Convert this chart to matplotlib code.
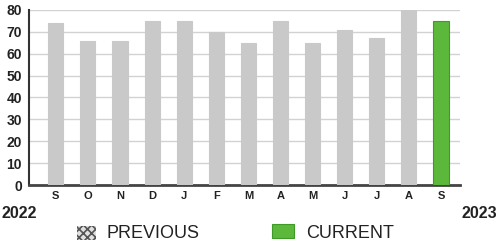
import matplotlib.pyplot as plt
from matplotlib.patches import Rectangle

plt.rcParams['font.family'] = ['Liberation Sans', 'DejaVu Sans']
plt.rcParams['hatch.linewidth'] = 1.2

# data
months = ['S', 'O', 'N', 'D', 'J', 'F', 'M', 'A', 'M', 'J', 'J', 'A', 'S']
values = [74, 66, 66, 75, 75, 70, 65, 75, 65, 71, 67, 80, 75]
is_current = [False] * 12 + [True]

grey = '#c9c9c9'
green = '#5cb83a'

fig = plt.figure(figsize=(4.97, 2.47), dpi=100)
ax = fig.add_axes([0.058, 0.251, 0.868, 0.709])

x = list(range(len(months)))
colors = [green if c else grey for c in is_current]
edges = ['#3f9a25' if c else grey for c in is_current]
ax.bar(x, values, width=0.47, color=colors, edgecolor=edges, linewidth=0.8, zorder=3)

ax.set_ylim(0, 80)
ax.set_xlim(-0.84, 12.6)
ax.set_yticks(range(0, 81, 10))
ax.set_xticks(x)
ax.set_xticklabels(months, fontsize=8, fontweight='bold')
for lab in ax.get_yticklabels():
    lab.set_fontsize(10)
    lab.set_fontweight('bold')
ax.tick_params(axis='both', length=0, pad=4, colors='#222222')
ax.tick_params(axis='y', pad=5)

ax.yaxis.grid(True, color='#d2d2d2', linewidth=1.0, zorder=0)
ax.spines['top'].set_visible(False)
ax.spines['right'].set_visible(False)
ax.spines['left'].set_color('#333333')
ax.spines['left'].set_linewidth(1.5)
ax.spines['bottom'].set_color('#444444')
ax.spines['bottom'].set_linewidth(2)

# year labels
fig.text(0.004, 0.135, '2022', fontsize=11.5, fontweight='bold', color='#222222', va='center')
fig.text(1.0, 0.135, '2023', fontsize=11.5, fontweight='bold', color='#222222', va='center', ha='right')

# legend
W, H = 497, 247
fig.add_artist(Rectangle((77 / W, 1 - 240 / H), 19 / W, 14 / H, transform=fig.transFigure,
                         facecolor='#e0e0e0', edgecolor='#555555', hatch='xxxx', linewidth=0))
fig.text(107 / W, 1 - 233 / H, 'PREVIOUS', fontsize=13, color='#222222', va='center')
fig.add_artist(Rectangle((272 / W, 1 - 238 / H), 22 / W, 14 / H, transform=fig.transFigure,
                         facecolor=green, edgecolor='#3f9a25', linewidth=0.8))
fig.text(306 / W, 1 - 233 / H, 'CURRENT', fontsize=13, color='#222222', va='center')

fig.savefig('out.png', dpi=100)
